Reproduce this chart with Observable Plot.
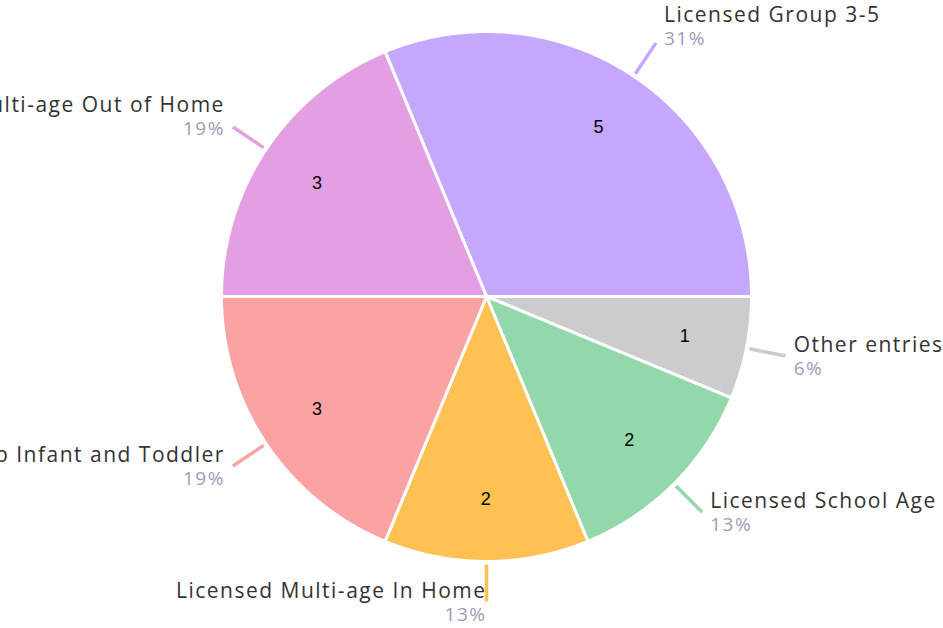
<!DOCTYPE html>
<html>
<head>
<meta charset="utf-8">
<script src="https://cdn.jsdelivr.net/npm/d3@7"></script>
<script src="https://cdn.jsdelivr.net/npm/@observablehq/plot@0.6"></script>
<style>
  html, body { margin: 0; padding: 0; background: #fff; overflow: hidden; }
  #chart svg { display: block; overflow: hidden; }
  #chart svg g[aria-label="text"] text { letter-spacing: 1.5px; }
</style>
</head>
<body>
<div id="chart"></div>
<script>
// ---- data ----
const categories = [
  "Licensed Group 3-5",
  "Other entries",
  "Licensed School Age",
  "Licensed Multi-age In Home",
  "Licensed Group Infant and Toddler",
  "Licensed Multi-age Out of Home"
];
const counts = [5, 1, 2, 2, 3, 3];
const percentLabels = ["31%", "6%", "13%", "13%", "19%", "19%"];
const colors = ["#c5a8fe", "#cccccc", "#93d8ab", "#ffc152", "#fba3a3", "#e2a0e3"];

// ---- layout ----
const W = 943, H = 628;
const cx = 486, cy = 296, R = 265;

const pie = d3.pie().sort(null).value(d => d.count)
  .startAngle(-Math.PI / 8).endAngle(2 * Math.PI - Math.PI / 8);
const rows = categories.map((c, i) => ({name: c, count: counts[i], pct: percentLabels[i], color: colors[i]}));
const arcs = pie(rows);

const pt = (a, r) => [cx + r * Math.sin(a), cy - r * Math.cos(a)];

// slice polygons (arc sampled)
const polys = [];
arcs.forEach(a => {
  const n = Math.max(8, Math.ceil((a.endAngle - a.startAngle) / 0.01));
  polys.push({name: a.data.name, color: a.data.color, x: cx, y: cy});
  for (let k = 0; k <= n; k++) {
    const t = a.startAngle + (a.endAngle - a.startAngle) * k / n;
    const [x, y] = pt(t, R);
    polys.push({name: a.data.name, color: a.data.color, x, y});
  }
  polys.push({name: a.data.name, color: a.data.color, x: cx, y: cy});
});

const info = arcs.map(a => {
  const m = (a.startAngle + a.endAngle) / 2;
  const s = Math.sin(m), c = Math.cos(m);
  const [vx, vy] = pt(m, 203);
  const [x1, y1] = pt(m, 268);
  const [x2, y2] = pt(m, 305);
  const off = 8 * Math.max(-1, Math.min(1, s * 3));
  const ly = y2 - 4 - 20 * Math.max(0, c);
  return {
    name: a.data.name, pct: a.data.pct, count: a.data.count, color: a.data.color,
    vx, vy, x1, y1, x2, y2,
    lx: x2 + off, ly, side: s > 0.05 ? "right" : "left"
  };
});

const font = "'Open Sans', Lato, sans-serif";

const plot = Plot.plot({
  width: W, height: H,
  margin: 0,
  x: {domain: [0, W], range: [0, W], axis: null},
  y: {domain: [0, H], range: [0, H], axis: null},
  style: {background: "#fff"},
  marks: [
    Plot.line(polys, {x: "x", y: "y", z: "name", fill: d => d.color, stroke: "#fff", strokeWidth: 3, strokeLinejoin: "round"}),
    Plot.text(info, {x: "vx", y: "vy", text: d => String(d.count), fill: "#000", fontSize: 18, fontFamily: "Arial, 'Liberation Sans', sans-serif"}),
    Plot.link(info, {x1: "x1", y1: "y1", x2: "x2", y2: "y2", stroke: d => d.color, strokeWidth: 3.5}),
    Plot.text(info.filter(d => d.side === "right"), {x: "lx", y: "ly", text: "name", textAnchor: "start", lineAnchor: "bottom", fill: "#333", fontSize: 21, fontFamily: font}),
    Plot.text(info.filter(d => d.side === "right"), {x: "lx", y: d => d.ly + 23, text: "pct", textAnchor: "start", lineAnchor: "bottom", fill: "#9d9db8", fontSize: 19, fontFamily: font}),
    Plot.text(info.filter(d => d.side === "left"), {x: "lx", y: "ly", text: "name", textAnchor: "end", lineAnchor: "bottom", fill: "#333", fontSize: 21, fontFamily: font}),
    Plot.text(info.filter(d => d.side === "left"), {x: "lx", y: d => d.ly + 23, text: "pct", textAnchor: "end", lineAnchor: "bottom", fill: "#9d9db8", fontSize: 19, fontFamily: font})
  ]
});
document.getElementById("chart").appendChild(plot);
</script>
</body>
</html>
